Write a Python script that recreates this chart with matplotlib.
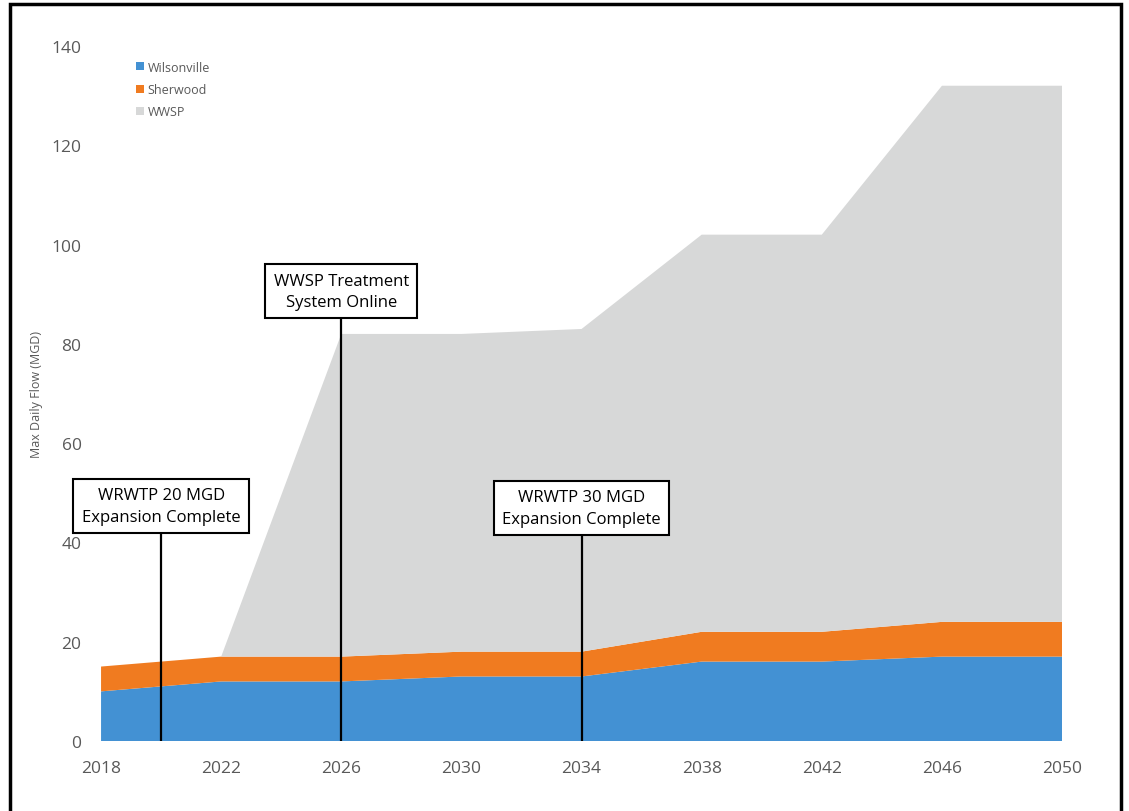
import matplotlib.pyplot as plt
from matplotlib.patches import Rectangle

# max daily flow projections (MGD), stacked by supplier
years = [2018, 2022, 2026, 2030, 2034, 2038, 2042, 2046, 2050]
wilsonville = [10, 12, 12, 13, 13, 16, 16, 17, 17]
sherwood = [5, 5, 5, 5, 5, 6, 6, 7, 7]
wwsp = [0, 0, 65, 64, 65, 80, 80, 108, 108]

# milestone call-outs: year of the event and label height
milestones = [
    (2020, 47.3, "WRWTP 20 MGD\nExpansion Complete"),
    (2026, 90.6, "WWSP Treatment\nSystem Online"),
    (2034, 46.9, "WRWTP 30 MGD\nExpansion Complete"),
]

plt.rcParams['font.family'] = ['Open Sans', 'DejaVu Sans']

fig = plt.figure(figsize=(11.29, 8.12), dpi=100)
ax = fig.add_axes([0.0895, 0.0862, 0.8512, 0.8559])

colors = ['#4391d3', '#f07b20', '#d7d8d8']
ax.stackplot(years, wilsonville, sherwood, wwsp, colors=colors,
             labels=['Wilsonville', 'Sherwood', 'WWSP'])

ax.set_xlim(2018, 2050)
ax.set_ylim(0, 140)
ax.set_xticks(range(2018, 2051, 4))
ax.set_yticks(range(0, 141, 20))
for s in ax.spines.values():
    s.set_visible(False)
ax.tick_params(length=0, labelsize=12.5, colors='#595959')
ax.tick_params(axis='x', pad=14)
ax.tick_params(axis='y', pad=14)
ax.set_ylabel('Max Daily Flow (MGD)', fontsize=9, color='#595959', labelpad=6)

for yr, ytxt, txt in milestones:
    ax.plot([yr, yr], [0, ytxt], color='black', lw=1.6, zorder=3)
    ax.text(yr, ytxt, txt, ha='center', va='center', fontsize=12,
            linespacing=1.45, color='black', zorder=4,
            bbox=dict(boxstyle='square,pad=0.5', fc='white', ec='black', lw=1.5))

leg = ax.legend(loc='upper left', bbox_to_anchor=(0.025, 0.995), frameon=False,
                fontsize=9, handlelength=0.6, handleheight=0.6,
                handletextpad=0.3, labelspacing=0.75)
for t in leg.get_texts():
    t.set_color('#595959')

# outer frame around the figure
fig.patches.append(Rectangle((0.009, -0.05), 0.984, 1.044, transform=fig.transFigure,
                             fill=False, ec='black', lw=2.5))

fig.savefig('out.png', dpi=100)
